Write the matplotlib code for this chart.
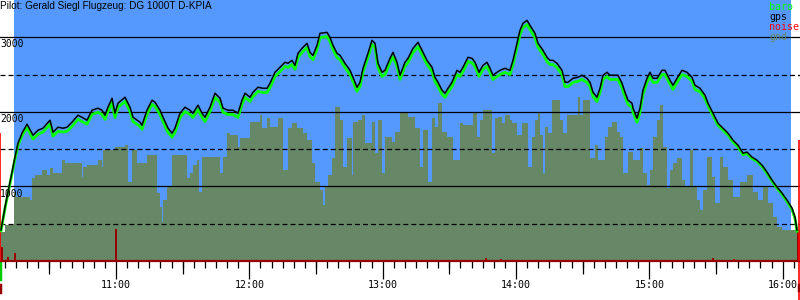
import numpy as np
import matplotlib
matplotlib.use("Agg")
import matplotlib.pyplot as plt
import matplotlib.transforms as mtransforms

# time axis: minutes after 10:00
gps_t = [8.25, 10.05, 12.3, 14.55, 15.9, 17.7, 19.95, 22.65, 24.9, 27.15, 30.3, 31.65, 33.9, 36.15, 37.95,
         40.2, 42.9, 44.7, 46.95, 49.2, 51.9, 53.7, 55.05, 56.4, 58.2, 59.55, 60.9, 64.05, 66.3, 67.65,
         70.8, 71.7, 73.95, 76.2, 77.55, 79.8, 81.15, 83.4, 85.2, 86.55, 88.8, 91.05, 93.3, 94.65, 96.9,
         98.7, 100.05, 102.3, 104.55, 106.8, 108.15, 110.4, 112.65, 114.9, 116.7, 118.05, 120.3, 121.65,
         123.9, 126.15, 127.95, 129.3, 131.55, 133.8, 136.05, 137.4, 139.2, 140.55, 141.9, 143.7, 145.95,
         147.3, 148.65, 150.45, 151.8, 154.95, 156.3, 157.65, 159.45, 160.8, 163.05, 165.3, 166.65, 168.45,
         169.8, 171.15, 173.4, 175.2, 176.55, 177.9, 179.7, 181.05, 183.3, 184.65, 186.45, 187.8, 190.05,
         191.4, 193.65, 195.9, 198.15, 199.95, 202.2, 203.55, 204.9, 206.7, 208.05, 209.4, 211.2, 213.45,
         214.8, 216.15, 218.4, 220.2, 221.55, 223.35, 225.15, 226.95, 228.3, 229.65, 231.45, 232.8, 235.05,
         237.3, 238.65, 240.45, 241.8, 243.15, 244.95, 246.3, 248.55, 249.9, 252.15, 253.95, 255.3, 256.65,
         258.45, 260.7, 262.05, 263.4, 265.65, 267.9, 269.7, 271.95, 273.3, 274.65, 276.45, 277.8, 279.15,
         280.95, 282.3, 284.55, 285.9, 287.7, 289.05, 290.4, 292.2, 292.65, 294.45, 295.8, 297.15, 298.95,
         300.3, 301.65, 303.45, 305.7, 307.05, 309.3, 310.65, 312.45, 314.7, 316.95, 319.2, 320.55, 322.8,
         325.05, 326.4, 328.65, 330.9, 333.15, 335.4, 337.65, 339.9, 342.15, 343.95, 346.2, 348.45, 350.7,
         352.95, 355.2, 357.45, 359.7, 361.95, 364.2, 365.55, 366.45]
gps_alt = [415, 723, 1058, 1393, 1580, 1714, 1834, 1687, 1754, 1781, 1888, 1727, 1794, 1781, 1794,
           1861, 1955, 1928, 1888, 2022, 2049, 2022, 1955, 2062, 2183, 1982, 2116, 2196, 2062, 1928,
           1861, 1821, 2022, 2156, 2129, 2022, 1928, 1781, 1714, 1781, 1982, 2062, 2022, 1982, 2089,
           1982, 1928, 2062, 2250, 2183, 2049, 2022, 2022, 1982, 2156, 2250, 2196, 2263,
           2330, 2316, 2316, 2383, 2531, 2598, 2665, 2651, 2691, 2624, 2785, 2852, 2919,
           2798, 2758, 2892, 3053, 3066, 2999, 2892, 2785, 2758, 2651, 2557, 2464, 2330,
           2397, 2584, 2785, 2959, 2919, 2651, 2531, 2557, 2718, 2798, 2665, 2491, 2665,
           2718, 2852, 2932, 2798, 2691, 2598, 2464, 2397, 2290, 2250, 2316, 2397, 2557,
           2531, 2598, 2732, 2718, 2665, 2531, 2624, 2665, 2584, 2491, 2531, 2557, 2584,
           2557, 2691, 2919, 3093, 3187, 3227, 3160, 3053, 2919, 2825, 2732, 2691, 2691,
           2651, 2557, 2397, 2397, 2450, 2464, 2491, 2450, 2397, 2263, 2196, 2316, 2491,
           2531, 2491, 2491, 2491, 2383, 2263, 2156, 2116, 2049, 1915, 2049, 2290, 2450,
           2531, 2450, 2450, 2557, 2557, 2424, 2357, 2450, 2557, 2531, 2464, 2357, 2316,
           2223, 2116, 1982, 1848, 1781, 1714, 1620, 1553, 1446, 1460, 1393, 1352, 1285,
           1192, 1085, 991, 911, 817, 710, 589, 415]
baro_alt = [405, 705, 1040, 1370, 1550, 1680, 1790, 1635, 1700, 1730, 1835, 1675, 1740, 1730, 1740,
            1805, 1900, 1870, 1835, 1965, 1995, 1965, 1900, 2005, 2125, 1925, 2060, 2140, 2005, 1870,
            1805, 1765, 1965, 2100, 2075, 1965, 1870, 1725, 1660, 1725, 1925, 2005, 1965, 1925, 2030,
            1925, 1870, 2005, 2195, 2125, 1995, 1965, 1965, 1925, 2100, 2195, 2140, 2205,
            2275, 2260, 2260, 2325, 2475, 2540, 2610, 2595, 2635, 2570, 2730, 2795, 2865,
            2740, 2700, 2835, 2995, 3010, 2945, 2835, 2730, 2700, 2595, 2500, 2410, 2275,
            2340, 2530, 2730, 2905, 2865, 2595, 2475, 2500, 2660, 2740, 2610, 2435, 2610,
            2660, 2795, 2875, 2740, 2635, 2540, 2410, 2340, 2235, 2195, 2260, 2340, 2500,
            2475, 2540, 2675, 2660, 2610, 2475, 2570, 2610, 2530, 2435, 2475, 2500, 2530,
            2500, 2635, 2865, 3035, 3130, 3170, 3105, 2995, 2865, 2770, 2675, 2635, 2635,
            2595, 2500, 2340, 2340, 2395, 2410, 2435, 2395, 2340, 2205, 2140, 2260, 2435,
            2475, 2435, 2435, 2435, 2325, 2205, 2100, 2060, 1995, 1860, 1995, 2235, 2395,
            2475, 2395, 2395, 2500, 2500, 2370, 2300, 2395, 2500, 2475, 2410, 2300, 2270,
            2180, 2080, 1950, 1820, 1755, 1690, 1595, 1530, 1425, 1440, 1375, 1335, 1270,
            1175, 1070, 975, 895, 800, 690, 570, 400]

# ground elevation under the track (step profile)
gnd_t = [7.8, 10.05, 14.1, 15.0, 21.3, 22.2, 23.55, 26.7, 28.95, 30.3, 31.65, 35.7, 37.05, 44.7, 45.15,
         46.95, 51.9, 53.7, 54.15, 59.55, 64.05, 65.4, 67.2, 69.45, 73.95, 78.45, 79.8, 80.7, 81.15,
         82.95, 85.2, 91.95, 93.3, 94.65, 96.45, 97.35, 98.7, 106.8, 108.15, 109.95, 111.3, 114.9,
         115.8, 120.3, 124.8, 125.7, 127.95, 129.3, 132.9, 135.15, 137.4, 139.2, 141.45, 144.15,
         145.95, 148.2, 149.55, 151.8, 153.15, 154.05, 155.4, 157.2, 158.55, 160.8, 162.15, 163.95,
         166.2, 166.65, 168.9, 170.7, 172.05, 175.2, 176.55, 177.9, 179.7, 181.05, 184.2, 185.55,
         187.8, 191.4, 194.55, 196.8, 198.15, 200.4, 202.2, 203.55, 204.9, 206.7, 208.95, 211.65,
         214.8, 216.15, 220.65, 222.45, 223.8, 225.15, 229.2, 230.55, 231.9, 233.7, 235.05, 237.3,
         238.2, 240.45, 242.7, 245.4, 247.2, 248.55, 249.9, 250.8, 252.15, 253.05, 254.4, 256.2,
         259.8, 261.15, 262.95, 267.9, 268.8, 270.15, 273.3, 275.55, 276.9, 280.05, 281.4, 283.2,
         285.45, 286.8, 288.15, 290.4, 292.65, 295.8, 297.15, 298.95, 300.3, 301.65, 303.45, 304.8,
         306.15, 307.95, 309.3, 310.65, 312.45, 314.7, 316.05, 318.3, 319.65, 321.45, 322.8, 324.15,
         325.95, 328.2, 329.55, 331.8, 333.15, 335.4, 337.65, 340.8, 343.95, 346.65, 348.9, 351.15,
         353.4, 355.65, 357.45, 359.7, 367.8]
gnd_alt = [388, 482, 924, 857, 817, 1111, 1152, 1219, 1152, 1245, 1178, 1352, 1312, 1125, 1259,
           1285, 1352, 1259, 1486, 1526, 1553, 1058, 1486, 1312, 1419, 910, 723, 522, 817,
           991, 1419, 1111, 1178, 1285, 1352, 924, 1393, 1178, 1393, 1714, 1687, 1526,
           1647, 1861, 1955, 1781, 1915, 1794, 1915, 1218, 1781, 1848, 1781, 1714,
           1620, 1312, 1058, 951, 750, 991, 1152, 1379, 2062, 1888, 1259, 1647,
           1152, 1861, 1888, 1955, 1580, 1861, 1446, 1888, 1178, 1660, 1593, 1727,
           1982, 1928, 1781, 1259, 1754, 1058, 1915, 1794, 2116, 1727, 1660, 1352,
           1848, 1821, 1982, 1660, 1888, 2022, 1446, 1915, 1928, 1848, 1955, 1888,
           1848, 1687, 1848, 1259, 1660, 1888, 1995, 1687, 1178, 1794, 1714, 2156,
           1888, 1714, 1955, 2196, 1955, 2156, 1379, 1553, 1352, 1660, 1794, 1861,
           1727, 1660, 1178, 1460, 1352, 1513, 1178, 1018, 1219, 1660, 1888, 2089,
           1526, 977, 1219, 1312, 1379, 1085, 991, 1486, 991, 817, 683, 951,
           1393, 1125, 777, 1393, 1259, 1085, 857, 1058, 1152, 924, 817, 991,
           777, 589, 455, 415, 415]

# engine noise spikes
noise_t = [8.7, 11.4, 14.55, 60.0, 226.5, 233.25, 328.65, 338.1, 366.6, 367.1, 367.6]
noise_v = [188, 54, 107, 429, 40, 27, 40, 27, 415, 415, 415]

takeoff_t = 8.0
landing_t = 367.3
takeoff_mark = 1714
landing_mark = 1620
blue_span = (14.1, 363.75)

hour_ticks = [60, 120, 180, 240, 300, 360]
hour_labels = ["11:00", "12:00", "13:00", "14:00", "15:00", "16:00"]
half_ticks = [30, 90, 150, 210, 270, 330]
alt_labels = [1000, 2000, 3000]
alt_dashed = [500, 1500, 2500]

title = "Pilot: Gerald Siegl Flugzeug: DG 1000T D-KPIA"

plt.rcParams['lines.scale_dashes'] = False
mono = 'DejaVu Sans Mono'

fig = plt.figure(figsize=(8, 3), dpi=100)
ax = fig.add_axes([0, 39 / 300, 1, 261 / 300])
ax.set_xlim(7.8, 367.8)
ax.set_ylim(0, 3500)

ax.axvspan(*blue_span, color='#5599ff', zorder=0, lw=0)
ax.fill_between(gnd_t, gnd_alt, 0, step='post', color='#668866', lw=0, zorder=1)

for v in alt_labels:
    ax.axhline(v, color='black', lw=0.9, zorder=2)
for v in alt_dashed:
    ax.axhline(v, color='black', lw=0.9, ls=(0, (3.6, 2.2)), zorder=2)

ax.bar(noise_t, noise_v, width=0.5, color='#990000', zorder=2.5, align='center')
ax.vlines([takeoff_t], 0, takeoff_mark, color='#ff0000', lw=1.2, zorder=2.6)
ax.vlines([landing_t], 0, landing_mark, color='#ff0000', lw=1.2, zorder=2.6)

ax.plot(gps_t, baro_alt, color='#00ff00', lw=2.0, zorder=3)
ax.plot(gps_t, gps_alt, color='black', lw=1.1, zorder=4)

# markers below the axis
trans = mtransforms.blended_transform_factory(ax.transData, ax.transAxes)
ax.plot([takeoff_t, takeoff_t], [-0.004, -0.069], color='#00cc00', lw=2.5, transform=trans, clip_on=False)
ax.plot([takeoff_t, takeoff_t], [-0.092, -0.119], color='#990000', lw=2.5, transform=trans, clip_on=False)
ax.plot([landing_t, landing_t], [0, -0.15], color='#ff0000', lw=1.2, transform=trans, clip_on=False)
ax.plot([landing_t, landing_t], [-0.092, -0.111], color='#990000', lw=2.5, transform=trans, clip_on=False)

for v in alt_labels:
    ax.annotate(str(v), xy=(0, v), xycoords=('axes fraction', 'data'), xytext=(0, -1.5),
                textcoords='offset points', va='top', ha='left', fontsize=7, family=mono)

for sp in ['top', 'left', 'right']:
    ax.spines[sp].set_visible(False)
ax.spines['bottom'].set_color('#990000')
ax.spines['bottom'].set_linewidth(1.6)
ax.set_yticks([])

ax.set_xticks(hour_ticks)
ax.set_xticklabels(hour_labels, family=mono, fontsize=7.2)
ax.set_xticks(np.arange(10, 366, 5), minor=True)
ax.tick_params(axis='x', which='major', length=13, width=0.9, direction='out', pad=1)
ax.tick_params(axis='x', which='minor', length=5, width=0.9, direction='out')
sec = ax.secondary_xaxis('bottom')
sec.set_xticks(half_ticks)
sec.set_xticklabels([])
sec.tick_params(axis='x', length=9, width=0.9)
sec.spines['bottom'].set_visible(False)

fig.text(0.0, 0.997, title, ha='left', va='top', fontsize=7.2, family='Liberation Sans')

legend = [("baro", '#00ff00'), ("gps", 'black'), ("noise", '#ff0000'), ("gnd", '#668866')]
for i, (name, col) in enumerate(legend):
    fig.text(769 / 800, 1 - (7 + 10 * i) / 300, name, ha='left', va='center', fontsize=7.2,
             family=mono, color=col)

fig.savefig("out.png", dpi=100)
